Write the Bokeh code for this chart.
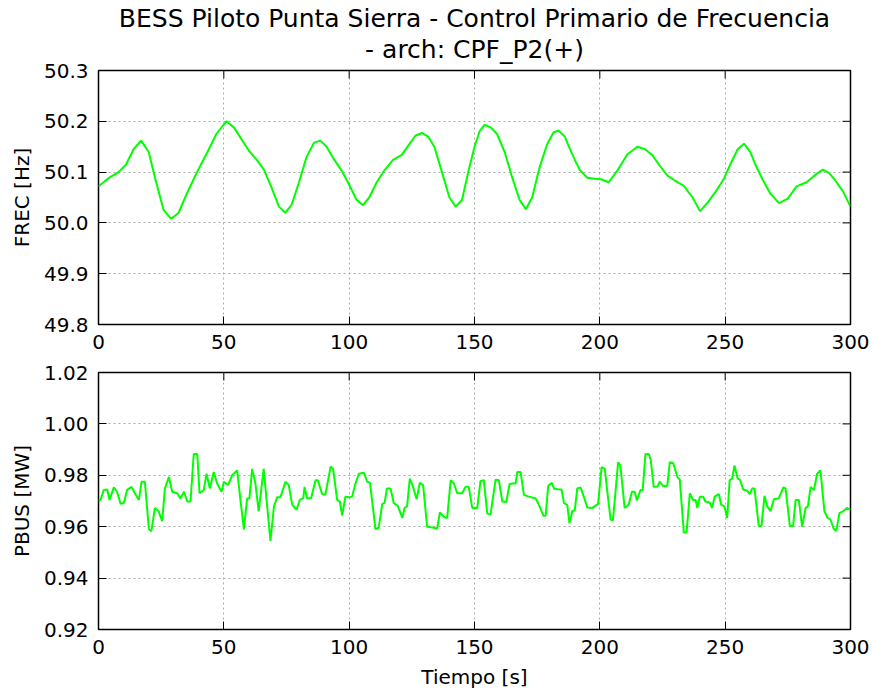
import math
from bokeh.plotting import figure
from bokeh.models import FixedTicker, Title, Range1d, PrintfTickFormatter
from bokeh.layouts import column
from bokeh.embed import file_html
from bokeh.resources import INLINE

TITLE_1 = "BESS Piloto Punta Sierra - Control Primario de Frecuencia"
TITLE_2 = "- arch: CPF_P2(+)"
X_LABEL = "Tiempo [s]"
Y1_LABEL = "FREC [Hz]"
Y2_LABEL = "PBUS [MW]"
X_TICKS = [0, 50, 100, 150, 200, 250, 300]
Y1_TICKS = [49.8, 49.9, 50.0, 50.1, 50.2, 50.3]
Y2_TICKS = [0.92, 0.94, 0.96, 0.98, 1.00, 1.02]

frec_t = [0, 4, 8, 11, 14, 17, 20, 23, 26, 29, 32, 35, 39, 43, 47, 51, 54, 57, 60, 63,
          66, 69, 72, 74.5, 77, 80, 83, 86, 88.5, 91, 94, 97, 100, 103, 105.5, 108, 111, 114,
          117.5, 121, 124, 126.5, 129, 131.5, 134, 137, 140, 142.5, 145, 147.5, 150, 152, 154,
          156.5, 159, 162, 165, 168, 170.5, 173, 176, 179, 181.5, 183.5, 186, 189, 192, 195,
          198, 200.5, 203.5, 207, 211, 215, 218, 221, 224, 227, 230, 233.5, 237, 240, 243,
          246, 249.5, 252.5, 255, 257.5, 260, 262.5, 265, 268, 271.5, 275, 278.5, 282.5, 286,
          289, 291.5, 294, 297, 300]
frec_v = [50.072, 50.088, 50.100, 50.115, 50.145, 50.162, 50.140, 50.080, 50.025, 50.008,
          50.020, 50.055, 50.097, 50.135, 50.175, 50.200, 50.188, 50.165, 50.142, 50.125,
          50.105, 50.070, 50.032, 50.020, 50.035, 50.080, 50.130, 50.158, 50.162, 50.150,
          50.125, 50.103, 50.075, 50.045, 50.035, 50.050, 50.080, 50.103, 50.124, 50.134,
          50.155, 50.172, 50.177, 50.170, 50.150, 50.100, 50.050, 50.032, 50.045, 50.100,
          50.150, 50.180, 50.193, 50.188, 50.175, 50.140, 50.090, 50.045, 50.027, 50.050,
          50.110, 50.155, 50.178, 50.182, 50.170, 50.135, 50.104, 50.089, 50.087, 50.086,
          50.080, 50.103, 50.135, 50.150, 50.145, 50.133, 50.112, 50.093, 50.083, 50.073,
          50.050, 50.023, 50.040, 50.060, 50.087, 50.120, 50.145, 50.156, 50.140, 50.110,
          50.085, 50.058, 50.039, 50.048, 50.072, 50.080, 50.095, 50.105, 50.098, 50.083,
          50.062, 50.032]

pbus_t = [0, 0.8, 2.1, 3.5, 4.4, 6.1, 7.4, 8.8, 10.1, 11.4, 13.2, 14.5, 16.1, 17.2, 18.5,
          20.1, 21.1, 22.5, 24.0, 25.4, 26.5, 28.1, 29.4, 31.4, 32.7, 34.1, 35.4, 36.7, 38.0,
          39.4, 40.3, 42.0, 43.1, 44.4, 46.0, 47.3, 49.1, 50.0, 51.7, 53.3, 55.3, 56.7, 58.0,
          59.3, 60.2, 61.3, 62.6, 63.9, 65.9, 67.3, 68.6, 70.0, 71.3, 72.6, 74.6, 75.9, 77.3,
          79.0, 80.3, 81.7, 82.2, 83.2, 84.8, 86.6, 87.5, 89.2, 90.5, 92.6, 93.6, 95.2, 96.3,
          97.2, 98.5, 99.9, 101.2, 102.5, 103.9, 105.9, 107.2, 108.3, 109.2, 110.5, 111.8,
          113.2, 114.1, 115.1, 116.5, 117.8, 119.4, 121.2, 122.1, 123.1, 124.2, 125.5, 126.9,
          128.2, 129.5, 131.1, 133.8, 135.1, 136.2, 137.8, 139.1, 140.5, 141.8, 143.1, 145.1,
          146.4, 147.7, 149.1, 151.1, 152.4, 153.7, 155.1, 156.4, 158.4, 159.7, 161.1, 162.7,
          164.0, 165.3, 166.4, 167.1, 168.4, 169.7, 171.7, 174.4, 175.7, 177.5, 178.4, 179.4,
          180.8, 181.7, 183.0, 184.7, 185.7, 187.0, 187.9, 189.0, 190.0, 191.0, 192.3, 193.6,
          195.0, 197.0, 199.3, 200.7, 202.0, 202.9, 204.3, 205.2, 206.2, 207.3, 208.2, 209.9,
          211.5, 212.8, 213.9, 214.8, 216.2, 217.1, 218.2, 219.5, 220.3, 221.5, 222.9, 223.9,
          225.3, 226.9, 227.9, 229.3, 230.9, 231.9, 233.5, 234.6, 235.9, 237.2, 238.2, 238.9,
          239.9, 241.2, 242.1, 243.8, 244.8, 245.8, 247.5, 248.4, 249.7, 250.8, 251.8, 252.8,
          253.7, 255.0, 255.9, 257.2, 258.8, 259.8, 260.8, 261.7, 263.4, 264.5, 265.7, 266.8,
          268.1, 269.4, 271.4, 273.2, 274.1, 275.8, 277.1, 278.1, 279.4, 280.7, 282.1, 283.0,
          284.1, 285.4, 286.7, 288.0, 289.6, 290.9, 292.0, 293.3, 294.3, 295.6, 297.0, 298.6,
          300]
pbus_v = [0.9700, 0.9704, 0.9743, 0.9745, 0.9704, 0.9753, 0.9736, 0.9689, 0.9692, 0.9743,
          0.9755, 0.9730, 0.9704, 0.9775, 0.9775, 0.9590, 0.9583, 0.9673, 0.9660, 0.9622,
          0.9749, 0.9794, 0.9736, 0.9730, 0.9710, 0.9736, 0.9698, 0.9698, 0.9883, 0.9883,
          0.9730, 0.9743, 0.9806, 0.9749, 0.9813, 0.9768, 0.9736, 0.9775, 0.9762, 0.9800,
          0.9819, 0.9698, 0.9590, 0.9710, 0.9710, 0.9825, 0.9768, 0.9660, 0.9825, 0.9679,
          0.9545, 0.9679, 0.9715, 0.9715, 0.9775, 0.9762, 0.9685, 0.9666, 0.9704, 0.9711,
          0.9755, 0.9711, 0.9711, 0.9781, 0.9781, 0.9727, 0.9724, 0.9834, 0.9825, 0.9704,
          0.9698, 0.9643, 0.9717, 0.9715, 0.9717, 0.9768, 0.9806, 0.9810, 0.9775, 0.9771,
          0.9698, 0.9590, 0.9596, 0.9689, 0.9692, 0.9749, 0.9749, 0.9692, 0.9681, 0.9634,
          0.9673, 0.9679, 0.9787, 0.9755, 0.9707, 0.9771, 0.9762, 0.9600, 0.9596, 0.9592,
          0.9656, 0.9638, 0.9634, 0.9781, 0.9768, 0.9730, 0.9730, 0.9755, 0.9755, 0.9673,
          0.9673, 0.9778, 0.9781, 0.9651, 0.9647, 0.9783, 0.9781, 0.9698, 0.9696, 0.9766,
          0.9768, 0.9768, 0.9813, 0.9813, 0.9724, 0.9717, 0.9710, 0.9685, 0.9643, 0.9643,
          0.9758, 0.9771, 0.9749, 0.9746, 0.9745, 0.9692, 0.9685, 0.9613, 0.9660, 0.9664,
          0.9749, 0.9753, 0.9717, 0.9675, 0.9673, 0.9689, 0.9832, 0.9825, 0.9743, 0.9628,
          0.9624, 0.9730, 0.9851, 0.9838, 0.9673, 0.9685, 0.9736, 0.9736, 0.9702, 0.9743,
          0.9743, 0.9883, 0.9883, 0.9860, 0.9755, 0.9755, 0.9775, 0.9758, 0.9758, 0.9851,
          0.9847, 0.9794, 0.9783, 0.9577, 0.9577, 0.9730, 0.9704, 0.9704, 0.9673, 0.9717,
          0.9717, 0.9698, 0.9694, 0.9673, 0.9717, 0.9727, 0.9685, 0.9679, 0.9634, 0.9781,
          0.9787, 0.9838, 0.9787, 0.9783, 0.9745, 0.9740, 0.9727, 0.9749, 0.9749, 0.9603,
          0.9603, 0.9720, 0.9679, 0.9660, 0.9707, 0.9711, 0.9753, 0.9749, 0.9603, 0.9603,
          0.9704, 0.9704, 0.9600, 0.9673, 0.9679, 0.9755, 0.9743, 0.9806, 0.9819, 0.9660,
          0.9634, 0.9628, 0.9592, 0.9583, 0.9653, 0.9660, 0.9673, 0.9666]

FONT = "DejaVu Sans"
LINE_COLOR = "#00ff00"


def style(p, xr, yr, yticks, yfmt, ylabel, xlabel=None):
    p.background_fill_color = "white"
    p.border_fill_color = "white"
    p.outline_line_color = "black"
    p.outline_line_width = 1.5
    p.outline_line_alpha = 1.0
    for ax in (p.xaxis[0], p.yaxis[0]):
        ax.axis_line_color = None
        ax.major_tick_in = 8
        ax.major_tick_out = 0
        ax.major_tick_line_color = "black"
        ax.major_tick_line_width = 1
        ax.minor_tick_line_color = None
        ax.major_label_text_font = FONT
        ax.major_label_text_font_size = "20px"
        ax.major_label_text_color = "black"
        ax.axis_label_text_font = FONT
        ax.axis_label_text_font_size = "20px"
        ax.axis_label_text_font_style = "normal"
        ax.axis_label_text_color = "black"
    p.xaxis[0].ticker = FixedTicker(ticks=X_TICKS)
    p.xaxis[0].major_label_standoff = 10
    p.yaxis[0].ticker = FixedTicker(ticks=yticks)
    p.yaxis[0].formatter = PrintfTickFormatter(format=yfmt)
    p.yaxis[0].major_label_standoff = 10
    p.yaxis[0].axis_label = ylabel
    p.yaxis[0].axis_label_standoff = 7
    if xlabel:
        p.xaxis[0].axis_label = xlabel
        p.xaxis[0].axis_label_standoff = 8
    p.xgrid.ticker = FixedTicker(ticks=X_TICKS)
    p.ygrid.ticker = FixedTicker(ticks=yticks)
    for g in (p.xgrid[0], p.ygrid[0]):
        g.grid_line_color = "#aaaaaa"
        g.grid_line_dash = "2 3"
        g.grid_line_width = 1
    # mirrored inward tick marks on the top and right edges of the frame
    p.scatter(X_TICKS, [yr[1]] * len(X_TICKS), marker="dash", size=16, angle=math.pi / 2,
              line_color="black", line_width=1)
    p.scatter([xr[1]] * len(yticks), yticks, marker="dash", size=16,
              line_color="black", line_width=1)


X_RANGE = (0, 300)
Y1_RANGE = (49.8, 50.3)
Y2_RANGE = (0.92, 1.02)
FRAME_W = 752
LEFT = 98
RIGHT = 22

p1 = figure(frame_width=FRAME_W, frame_height=254, x_range=Range1d(*X_RANGE),
            y_range=Range1d(*Y1_RANGE), output_backend="svg", toolbar_location=None,
            title=None, min_border_left=LEFT, min_border_right=RIGHT, min_border_top=70,
            min_border_bottom=30)
p1.line(frec_t, frec_v, line_color=LINE_COLOR, line_width=2)
style(p1, X_RANGE, Y1_RANGE, Y1_TICKS, "%.1f", Y1_LABEL)
p1.add_layout(Title(text=TITLE_2, align="center", text_font=FONT, text_font_size="25px",
                    text_font_style="normal", text_color="black", standoff=13), "above")
p1.add_layout(Title(text=TITLE_1, align="center", text_font=FONT, text_font_size="25px",
                    text_font_style="normal", text_color="black", standoff=-13), "above")

p2 = figure(frame_width=FRAME_W, frame_height=257, x_range=Range1d(*X_RANGE),
            y_range=Range1d(*Y2_RANGE), output_backend="svg", toolbar_location=None,
            title=None, min_border_left=LEFT, min_border_right=RIGHT, min_border_top=18,
            min_border_bottom=62)
p2.line(pbus_t, pbus_v, line_color=LINE_COLOR, line_width=2)
style(p2, X_RANGE, Y2_RANGE, Y2_TICKS, "%.2f", Y2_LABEL, X_LABEL)

layout = column(p1, p2, spacing=0)
open("out.html", "w").write(file_html(layout, INLINE))
